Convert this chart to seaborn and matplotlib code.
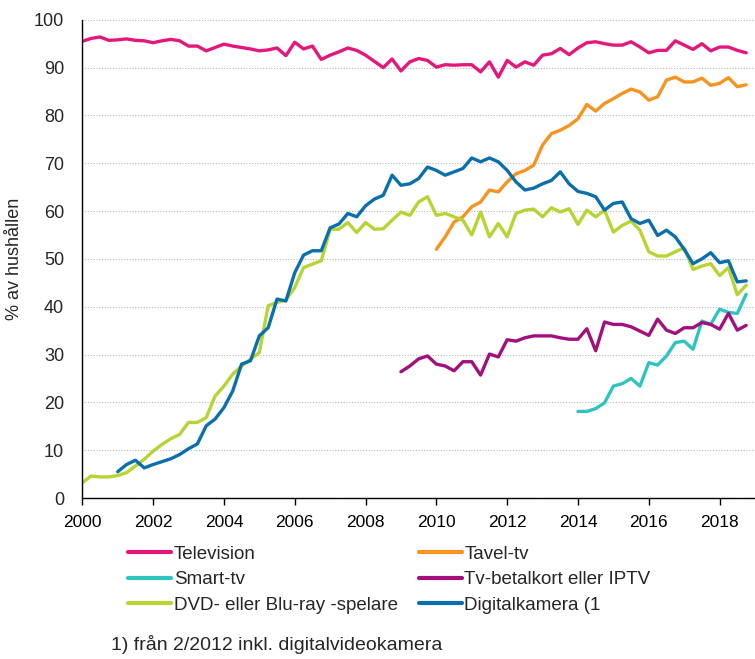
import numpy as np
import pandas as pd
import matplotlib
matplotlib.use("Agg")
import matplotlib.pyplot as plt
import seaborn as sns

nan = np.nan

# quarterly observations, 2000 Q1 .. 2018 Q4
quarters = 2000 + np.arange(76) / 4

television = [95.5, 96.1, 96.4, 95.7, 95.8, 96.0, 95.7, 95.6, 95.2, 95.6, 95.9, 95.6,
              94.5, 94.5, 93.5, 94.2, 94.9, 94.5, 94.2, 93.9, 93.5, 93.7, 94.1, 92.5,
              95.3, 93.9, 94.5, 91.7, 92.6, 93.3, 94.1, 93.6, 92.6, 91.3, 90.0, 91.8,
              89.3, 91.2, 91.9, 91.5, 90.1, 90.6, 90.5, 90.6, 90.6, 89.1, 91.2, 88.0,
              91.5, 90.1, 91.2, 90.5, 92.6, 92.9, 94.0, 92.7, 94.1, 95.2, 95.4, 95.0,
              94.7, 94.7, 95.4, 94.3, 93.1, 93.6, 93.6, 95.6, 94.7, 93.8, 95.0, 93.5,
              94.3, 94.3, 93.6, 93.1]

tavel_tv = [nan] * 40 + [
    52.0, 54.6, 57.7, 58.8, 60.9, 61.9, 64.4, 64.0, 66.1, 67.8, 68.5, 69.6,
    73.8, 76.2, 76.9, 77.9, 79.3, 82.3, 80.9, 82.5, 83.5, 84.6, 85.5, 84.9,
    83.2, 83.9, 87.4, 88.0, 87.0, 87.0, 87.8, 86.3, 86.7, 87.9, 86.0, 86.4]

smart_tv = [nan] * 56 + [
    18.1, 18.1, 18.7, 19.9, 23.4, 23.9, 25.0, 23.4, 28.3, 27.8,
    29.7, 32.5, 32.8, 31.1, 37.0, 36.3, 39.5, 38.8, 38.6, 42.6]

betalkort = [nan] * 36 + [
    26.4, 27.6, 29.1, 29.7, 28.0, 27.6, 26.6, 28.5, 28.5, 25.7, 30.1, 29.5,
    33.1, 32.8, 33.5, 33.9, 33.9, 33.9, 33.5, 33.2, 33.2, 35.4, 30.8, 36.8,
    36.3, 36.3, 35.8, 34.9, 34.0, 37.4, 35.1, 34.4, 35.6, 35.6, 36.7, 36.3,
    35.3, 38.6, 35.1, 36.1]

dvd = [3.2, 4.6, 4.4, 4.4, 4.7, 5.3, 6.7, 8.1, 9.8, 11.2, 12.4, 13.3,
       15.8, 15.8, 16.8, 21.3, 23.4, 25.9, 27.6, 29.0, 30.4, 40.2, 40.9, 41.4,
       44.0, 48.2, 48.9, 49.6, 56.2, 56.2, 57.6, 55.5, 57.6, 56.2, 56.3, 58.1,
       59.8, 59.1, 61.9, 63.0, 59.1, 59.5, 58.8, 58.1, 55.0, 59.8, 54.6, 57.4,
       54.6, 59.5, 60.2, 60.4, 58.8, 60.7, 59.8, 60.5, 57.2, 60.2, 58.8, 60.2,
       55.6, 57.0, 57.9, 56.0, 51.5, 50.6, 50.6, 51.5, 52.3, 47.8, 48.5, 49.0,
       46.5, 48.2, 42.5, 44.5]

kamera = [nan] * 4 + [
    5.5, 7.0, 7.9, 6.3, 7.0, 7.6, 8.2, 9.1,
    10.3, 11.3, 15.1, 16.5, 18.9, 22.4, 28.0, 28.7, 33.9, 35.6, 41.6, 41.2,
    47.1, 50.8, 51.7, 51.7, 56.5, 57.3, 59.5, 58.8, 61.1, 62.5, 63.3, 67.5,
    65.4, 65.7, 66.8, 69.2, 68.5, 67.5, 68.2, 68.9, 71.1, 70.3, 71.1, 70.3,
    68.5, 66.1, 64.4, 64.8, 65.7, 66.4, 68.2, 65.7, 64.1, 63.7, 63.0, 60.2,
    61.6, 61.9, 58.4, 57.4, 58.1, 54.9, 56.0, 54.6, 52.0, 49.0, 50.0, 51.3,
    49.2, 49.6, 45.2, 45.4]

names = ["Television", "Tavel-tv", "Smart-tv", "Tv-betalkort eller IPTV",
         "DVD- eller Blu-ray -spelare", "Digitalkamera (1"]
colors = ["#e5177b", "#f7931e", "#2ec4c0", "#a2107f", "#b8d432", "#0a6fad"]
series = [television, tavel_tv, smart_tv, betalkort, dvd, kamera]

df = pd.concat([pd.DataFrame({"year": quarters, "value": s, "serie": n})
                for n, s in zip(names, series)]).dropna()

sns.set_style("white")
plt.rcParams["font.family"] = ["Liberation Sans", "DejaVu Sans"]

fig = plt.figure(figsize=(7.55, 6.59), dpi=100)
ax = fig.add_axes([0.109, 0.2443, 0.891, 0.7257])

sns.lineplot(data=df, x="year", y="value", hue="serie", hue_order=names,
             palette=dict(zip(names, colors)), linewidth=2.4, ax=ax, legend=False)

ax.set_xlim(2000, 2019)
ax.set_ylim(0, 100)
ax.set_xticks(range(2000, 2019, 2))
ax.set_yticks(range(0, 101, 10))
ax.yaxis.grid(True, linestyle=(0, (1, 1.5)), color="#b8b8c4", linewidth=0.8)
ax.set_axisbelow(True)
for side in ["top", "right"]:
    ax.spines[side].set_visible(False)
for side in ["left", "bottom"]:
    ax.spines[side].set_color("black")
    ax.spines[side].set_linewidth(1.0)
ax.tick_params(axis="x", bottom=True, length=5, width=1, direction="out",
               pad=7, labelsize=12.5, colors="black")
ax.tick_params(axis="y", left=False, length=0, pad=13, labelsize=13)
ax.set_xlabel("")
ax.set_ylabel("% av hushållen", fontsize=13, labelpad=8)

# legend filled column-wise
handles = [plt.Line2D([], [], color=c, linewidth=3) for c in colors]
order = [0, 2, 4, 1, 3, 5]
fig.legend([handles[i] for i in order], [names[i] for i in order],
           ncol=2, loc="upper left", bbox_to_anchor=(0.1695, 0.172),
           frameon=False, fontsize=13.5, handlelength=2.3, handletextpad=0.15,
           columnspacing=1.1, labelspacing=0.45, borderaxespad=0, borderpad=0)

fig.text(0.147, 1 - 645 / 659, "1) från 2/2012 inkl. digitalvideokamera",
         fontsize=14, va="center", ha="left")

fig.savefig("out.png", dpi=100)
